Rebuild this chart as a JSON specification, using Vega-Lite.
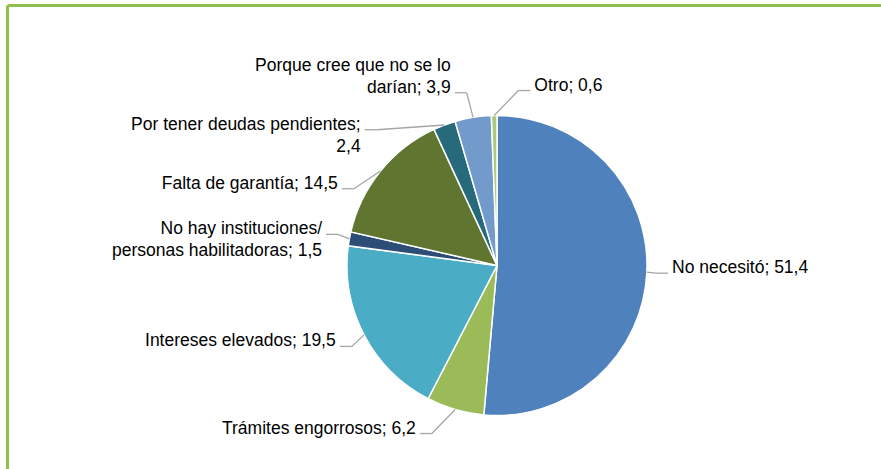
{
  "$schema": "https://vega.github.io/schema/vega-lite/v6.json",
  "width": 874,
  "height": 464,
  "autosize": {"type": "none"},
  "padding": {"left": 7, "top": 5, "right": 0, "bottom": 0},
  "background": "white",
  "config": {
    "view": {"stroke": null},
    "axis": {"domainColor": "#8FC04F", "domainWidth": 3, "ticks": false, "labels": false, "grid": false, "title": null}
  },
  "data": {
    "values": [
      {"cat": "No necesitó", "value": 51.4, "order": 1, "label": "No necesitó; 51,4"},
      {"cat": "Trámites engorrosos", "value": 6.2, "order": 2, "label": "Trámites engorrosos; 6,2"},
      {"cat": "Intereses elevados", "value": 19.5, "order": 3, "label": "Intereses elevados; 19,5"},
      {"cat": "No hay instituciones/personas habilitadoras", "value": 1.5, "order": 4, "label": "No hay instituciones/\npersonas habilitadoras; 1,5"},
      {"cat": "Falta de garantía", "value": 14.5, "order": 5, "label": "Falta de garantía; 14,5"},
      {"cat": "Por tener deudas pendientes", "value": 2.4, "order": 6, "label": "Por tener deudas pendientes;\n2,4"},
      {"cat": "Porque cree que no se lo darían", "value": 3.9, "order": 7, "label": "Porque cree que no se lo\ndarían; 3,9"},
      {"cat": "Otro", "value": 0.6, "order": 8, "label": "Otro; 0,6"}
    ]
  },
  "transform": [
    {"stack": "value", "groupby": [], "sort": [{"field": "order", "order": "ascending"}], "as": ["v0", "v1"]},
    {"calculate": "PI * (datum.v0 + datum.v1) / 100", "as": "a"},
    {"calculate": "(datum.a < PI || datum.a > 2 * PI - 0.1) ? 1 : -1", "as": "side"},
    {"calculate": "length(split(datum.label, '\\n'))", "as": "lines"},
    {"calculate": "cos(datum.a) > 0.95 ? 1 : 0", "as": "top"},
    {"calculate": "datum.top ? (datum.lines - 1) * 22 + 13 : 13", "as": "up"},
    {"calculate": "datum.top ? 4 : (datum.lines - 1) * 22 + 4", "as": "down"},
    {"calculate": "175 * cos(datum.a)", "as": "ny"},
    {"calculate": "datum.side < 0 ? -datum.a : (datum.a > PI ? datum.a - 2 * PI : datum.a)", "as": "sk"},
    {"window": [{"op": "sum", "field": "up", "as": "cu"}, {"op": "sum", "field": "down", "as": "cd"}, {"op": "row_number", "as": "rn"}], "groupby": ["side"], "sort": [{"field": "sk", "order": "ascending"}], "frame": [null, 0]},
    {"calculate": "datum.cu + datum.cd - datum.down + 20 * datum.rn", "as": "S"},
    {"calculate": "datum.ny + datum.S", "as": "z"},
    {"window": [{"op": "min", "field": "z", "as": "zmin"}], "groupby": ["side"], "sort": [{"field": "sk", "order": "ascending"}], "frame": [null, 0]},
    {"calculate": "datum.zmin - datum.S", "as": "ly"},
    {"calculate": "clamp(0, datum.ly - datum.down, datum.ly + datum.up)", "as": "yNear"},
    {"calculate": "datum.side * sqrt(max(0, 175 * 175 - datum.yNear * datum.yNear))", "as": "te"},
    {"calculate": "datum.te - datum.side * 4", "as": "hx"},
    {"calculate": "datum.te - datum.side * 16", "as": "bx"},
    {"calculate": "150 * sin(datum.a)", "as": "ex"},
    {"calculate": "150 * cos(datum.a)", "as": "ey"},
    {"calculate": "datum.top ? datum.ly + (datum.lines - 1) * 22 : datum.ly", "as": "ty"}
  ],
  "layer": [
    {
      "mark": {"type": "arc", "outerRadius": 150, "stroke": "white", "strokeWidth": 1.5},
      "encoding": {
        "theta": {"field": "value", "type": "quantitative", "stack": true},
        "order": {"field": "order", "type": "quantitative"},
        "color": {
          "field": "cat", "type": "nominal", "legend": null,
          "scale": {
            "domain": ["No necesitó", "Trámites engorrosos", "Intereses elevados", "No hay instituciones/personas habilitadoras", "Falta de garantía", "Por tener deudas pendientes", "Porque cree que no se lo darían", "Otro"],
            "range": ["#4F81BD", "#9BBB59", "#4BACC6", "#2C4D75", "#5F7530", "#276A7C", "#729ACA", "#AFC97A"]
          }
        },
        "x": {"datum": 0, "type": "quantitative", "scale": {"domain": [-490, 384], "nice": false, "zero": false}, "axis": {"orient": "top"}},
        "y": {"datum": 0, "type": "quantitative", "scale": {"domain": [-203.5, 260.5], "nice": false, "zero": false}, "axis": {"orient": "left"}}
      }
    },
    {
      "mark": {"type": "rule", "color": "#A6A6A6", "strokeWidth": 1.3},
      "encoding": {
        "x": {"field": "ex", "type": "quantitative", "scale": {"domain": [-490, 384], "nice": false, "zero": false}, "axis": {"orient": "top"}},
        "y": {"field": "ey", "type": "quantitative", "scale": {"domain": [-203.5, 260.5], "nice": false, "zero": false}, "axis": {"orient": "left"}},
        "x2": {"field": "bx"},
        "y2": {"field": "ly"}
      }
    },
    {
      "mark": {"type": "rule", "color": "#A6A6A6", "strokeWidth": 1.3},
      "encoding": {
        "x": {"field": "bx", "type": "quantitative", "scale": {"domain": [-490, 384], "nice": false, "zero": false}, "axis": {"orient": "top"}},
        "y": {"field": "ly", "type": "quantitative", "scale": {"domain": [-203.5, 260.5], "nice": false, "zero": false}, "axis": {"orient": "left"}},
        "x2": {"field": "hx"},
        "y2": {"field": "ly"}
      }
    },
    {
      "transform": [{"filter": "datum.side < 0"}],
      "mark": {"type": "text", "align": "right", "baseline": "alphabetic", "font": "Liberation Sans, Arial, sans-serif", "fontSize": 17.5, "lineHeight": 22, "lineBreak": "\n", "color": "#000000"},
      "encoding": {
        "x": {"field": "te", "type": "quantitative", "scale": {"domain": [-490, 384], "nice": false, "zero": false}, "axis": {"orient": "top"}},
        "y": {"field": "ty", "type": "quantitative", "scale": {"domain": [-203.5, 260.5], "nice": false, "zero": false}, "axis": {"orient": "left"}},
        "text": {"field": "label", "type": "nominal"}
      }
    },
    {
      "transform": [{"filter": "datum.side > 0"}],
      "mark": {"type": "text", "align": "left", "baseline": "alphabetic", "font": "Liberation Sans, Arial, sans-serif", "fontSize": 17.5, "lineHeight": 22, "lineBreak": "\n", "color": "#000000"},
      "encoding": {
        "x": {"field": "te", "type": "quantitative", "scale": {"domain": [-490, 384], "nice": false, "zero": false}, "axis": {"orient": "top"}},
        "y": {"field": "ty", "type": "quantitative", "scale": {"domain": [-203.5, 260.5], "nice": false, "zero": false}, "axis": {"orient": "left"}},
        "text": {"field": "label", "type": "nominal"}
      }
    }
  ]
}
